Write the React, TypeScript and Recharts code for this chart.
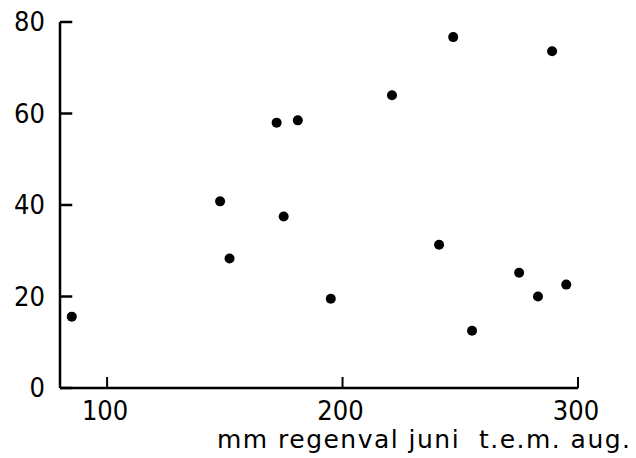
import { ReferenceLine, Scatter, ScatterChart, XAxis, YAxis } from "recharts";

const rainfall = [85, 148, 152, 172, 175, 181, 195, 221, 241, 247, 255, 275, 283, 289, 295];
const yieldPct = [15.6, 40.8, 28.3, 58, 37.5, 58.5, 19.5, 64, 31.3, 76.7, 12.5, 25.2, 20, 73.6, 22.6];
const xTicks = [100, 200, 300];
const yTicks = [0, 20, 40, 60, 80];
const xTitle = "mm regenval juni  t.e.m. aug.";

const points = rainfall.map((x, i) => ({ x, y: yieldPct[i] }));

const INK = "#000";
const FONT = "'DejaVu Sans Condensed', 'DejaVu Sans', sans-serif";
const X_MIN = 80;
const Y_MIN = 0;

function XTick({ x, y, payload }: any) {
  return (
    <text x={x - 2} y={y + 32} textAnchor="middle" fontSize={27} fontFamily={FONT} fill={INK}>
      {payload.value}
    </text>
  );
}

function YTick({ x, y, payload }: any) {
  return (
    <text x={x - 15} y={y + 9} textAnchor="end" fontSize={27} fontFamily={FONT} fill={INK}>
      {payload.value}
    </text>
  );
}

function XTitle() {
  return (
    <text
      x={630}
      y={448}
      textAnchor="end"
      fontSize={25}
      fontFamily="'DejaVu Sans', sans-serif"
      fill={INK}
      textLength={413}
      lengthAdjust="spacing"
      style={{ whiteSpace: "pre" }}
    >
      {xTitle}
    </text>
  );
}

function Dot({ cx, cy }: any) {
  return <circle cx={cx} cy={cy} r={5} fill={INK} />;
}

export default function App() {
  return (
    <div style={{ width: 636, height: 458, background: "#fff" }}>
      <style>{"body{margin:0}"}</style>
      <ScatterChart width={636} height={458} margin={{ top: 22, right: 58, bottom: 0, left: 0 }}>
        <XAxis
          type="number"
          dataKey="x"
          domain={[X_MIN, 300]}
          ticks={xTicks}
          allowDataOverflow
          height={70}
          tickSize={0}
          tickMargin={0}
          tickLine={false}
          axisLine={{ stroke: INK, strokeWidth: 2.5 }}
          tick={<XTick />}
          label={<XTitle />}
        />
        <YAxis
          type="number"
          dataKey="y"
          domain={[Y_MIN, 80]}
          ticks={yTicks}
          allowDataOverflow
          width={60}
          tickSize={0}
          tickMargin={0}
          tickLine={false}
          axisLine={{ stroke: INK, strokeWidth: 2.5 }}
          tick={<YTick />}
        />
        {/* inward tick marks */}
        {xTicks.map((t) => (
          <ReferenceLine
            key={"xt" + t}
            segment={[
              { x: t, y: Y_MIN },
              { x: t, y: Y_MIN + 2.4 },
            ]}
            stroke={INK}
            strokeWidth={2}
            ifOverflow="visible"
          />
        ))}
        {yTicks.map((t) => (
          <ReferenceLine
            key={"yt" + t}
            segment={[
              { x: X_MIN, y: t },
              { x: X_MIN + 5.2, y: t },
            ]}
            stroke={INK}
            strokeWidth={2.5}
            ifOverflow="visible"
          />
        ))}
        <Scatter data={points} shape={<Dot />} isAnimationActive={false} />
      </ScatterChart>
    </div>
  );
}
